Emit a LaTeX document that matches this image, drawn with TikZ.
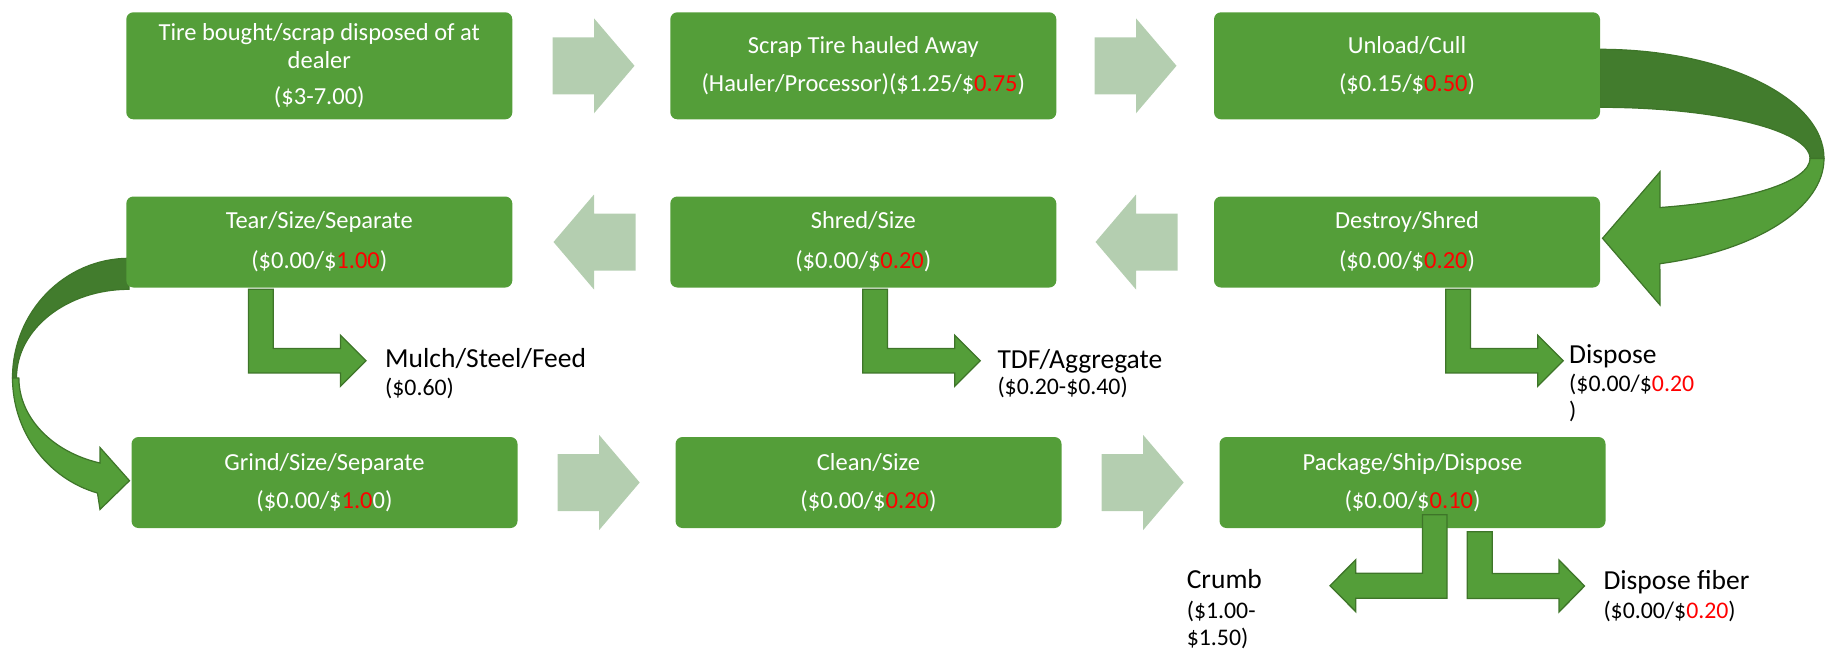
\documentclass[tikz,border=0pt]{standalone}
\usepackage{fontspec}
\setmainfont{Carlito}
\usetikzlibrary{calc}
\definecolor{boxgreen}{HTML}{549E39}
\definecolor{darkface}{HTML}{427C2D}
\definecolor{edgegreen}{HTML}{3E7529}
\definecolor{paleflow}{HTML}{B4CEB0}
\definecolor{hot}{HTML}{FF0000}
\tikzset{
  stage/.style={rectangle, rounded corners=7pt, fill=boxgreen, text=white,
    minimum width=386pt, inner sep=0pt, align=center,
    font=\fontsize{24.5}{28}\selectfont},
  toprow/.style={stage, minimum height=107pt},
  lowrow/.style={stage, minimum height=91pt},
  outlabel/.style={anchor=base west, inner sep=0pt, text=black,
    font=\fontsize{27.5}{32}\selectfont},
  pricelabel/.style={anchor=base west, inner sep=0pt, text=black,
    font=\fontsize{23.8}{28}\selectfont},
  flowarrow/.style={fill=boxgreen, draw=edgegreen, line width=1.3pt, line join=miter},
  curvefront/.style={fill=boxgreen, draw=edgegreen, line width=1.2pt},
  curveback/.style={fill=darkface, draw=edgegreen, line width=1.2pt},
  pics/palright/.style={code={
    \fill[paleflow] (-41.5,-28.5) -- (0,-28.5) -- (0,-47.5) -- (40.5,0)
      -- (0,47.5) -- (0,28.5) -- (-41.5,28.5) -- cycle;}},
  pics/palleft/.style={code={
    \fill[paleflow] (41.5,-28.5) -- (0,-28.5) -- (0,-47.5) -- (-40.5,0)
      -- (0,47.5) -- (0,28.5) -- (41.5,28.5) -- cycle;}},
  pics/bendright/.style={code={
    \filldraw[flowarrow] (0,0) -- (24.8,0) -- (24.8,59.3) -- (92,59.3)
      -- (92,46) -- (117.5,71.5) -- (92,97) -- (92,83.7) -- (0,83.7) -- cycle;}},
  pics/bendleft/.style={code={
    \filldraw[flowarrow] (0,0) -- (24.5,0) -- (24.5,83.5) -- (-66.7,83.5)
      -- (-66.7,97) -- (-92.5,71) -- (-66.7,45) -- (-66.7,58.5) -- (0,58.5) -- cycle;}},
  pics/bendshort/.style={code={
    \filldraw[flowarrow] (0,0) -- (24.9,0) -- (24.9,41.8) -- (91.7,41.8)
      -- (91.7,28.3) -- (117.2,54.3) -- (91.7,80.3) -- (91.7,66.8) -- (0,66.8) -- cycle;}},
}
\begin{document}
\begin{tikzpicture}[x=1pt, y=-1pt]
\useasboundingbox (0,0) rectangle (1825,657);

% curved arrow: Unload -> Destroy
\filldraw[curveback] (1600,49.3) arc[start angle=90, end angle=0, x radius=224pt, y radius=109.2pt]
  -- (1810,158.5) arc[start angle=0, end angle=90, x radius=210pt, y radius=51.2pt] -- cycle;
\filldraw[curvefront] (1824,158.5) arc[start angle=0, end angle=-74.5, x radius=224pt, y radius=109.2pt]
  -- (1660,305) -- (1602.5,238.3) -- (1660,171.7) -- (1660,207.5)
  arc[start angle=-73.4, end angle=0, x radius=210pt, y radius=51.2pt] -- cycle;

% curved arrow: Tear -> Grind
\filldraw[curveback] (129,258.3) arc[start angle=90, end angle=180, x radius=116.5pt, y radius=119.6pt]
  -- (16.5,377.9) arc[start angle=180, end angle=90, x radius=112.5pt, y radius=88.6pt] -- cycle;
\filldraw[curvefront] (12.5,377.9) arc[start angle=180, end angle=254.3, x radius=116.5pt, y radius=119.6pt]
  -- (100,509.5) -- (129.5,480.7) -- (100,447.5) -- (100,463)
  arc[start angle=253.8, end angle=180, x radius=112.5pt, y radius=88.6pt] -- cycle;

% boxes
\node[toprow] (dealer) at (319.3,65.8) {Tire bought/scrap disposed of at\\dealer\\[7.5pt](\$3-7.00)};
\node[toprow] (haul) at (863.3,65.8) {Scrap Tire hauled Away\\[9.5pt](Hauler/Processor)(\$1.25/\$\textcolor{hot}{0.75})};
\node[toprow] (unload) at (1407,65.8) {Unload/Cull\\[9.5pt](\$0.15/\$\textcolor{hot}{0.50})};

\node[lowrow] (tear) at (319.3,242) {Tear/Size/Separate\\[12pt](\$0.00/\$\textcolor{hot}{1.00})};
\node[lowrow] (shred) at (863.3,242) {Shred/Size\\[12pt](\$0.00/\$\textcolor{hot}{0.20})};
\node[lowrow] (destroy) at (1407,242) {Destroy/Shred\\[12pt](\$0.00/\$\textcolor{hot}{0.20})};

\node[lowrow] (grind) at (324.5,482.5) {Grind/Size/Separate\\[10.5pt](\$0.00/\$\textcolor{hot}{1.0}0)};
\node[lowrow] (clean) at (868.5,482.5) {Clean/Size\\[10.5pt](\$0.00/\$\textcolor{hot}{0.20})};
\node[lowrow] (package) at (1412.5,482.5) {Package/Ship/Dispose\\[10.5pt](\$0.00/\$\textcolor{hot}{0.10})};

% pale flow arrows
\pic at ($(dealer.east)+(81.5,0)$) {palright};
\pic at ($(haul.east)+(79.5,0)$) {palright};
\pic at ($(tear.east)+(81.5,0)$) {palleft};
\pic at ($(shred.east)+(79.5,0)$) {palleft};
\pic at ($(grind.east)+(81.5,0)$) {palright};
\pic at ($(clean.east)+(81.5,0)$) {palright};

% bent outflow arrows
\pic at ($(tear.south)+(-70.8,1.5)$) {bendright};
\pic at ($(shred.south)+(-0.6,1.5)$) {bendright};
\pic at ($(destroy.south)+(38.7,1.5)$) {bendright};
\pic at ($(package.south)+(10,-13.5)$) {bendleft};
\pic at ($(package.south)+(54.8,3.5)$) {bendshort};

% outflow labels
\node[outlabel] (mulch) at (385,367.3) {Mulch/Steel/Feed};
\node[pricelabel] (mulchp) at (385,395) {(\$0.60)};
\node[outlabel] (tdf) at (997.3,368.3) {TDF/Aggregate};
\node[pricelabel] (tdfp) at (997.3,394) {(\$0.20-\$0.40)};
\node[outlabel] (dispose) at (1569,363.3) {Dispose};
\node[pricelabel] (disposep) at (1569,391) {(\$0.00/\$\textcolor{hot}{0.20}};
\node[pricelabel] (disposeq) at (1569,418) {)};
\node[outlabel] (crumb) at (1186.6,588.3) {Crumb};
\node[pricelabel] (crumbp) at (1186.6,618) {(\$1.00-};
\node[pricelabel] (crumbq) at (1186.6,645) {\$1.50)};
\node[outlabel] (fiber) at (1603.3,589) {Dispose fiber};
\node[pricelabel] (fiberp) at (1603.3,618) {(\$0.00/\$\textcolor{hot}{0.20})};
\end{tikzpicture}
\end{document}
